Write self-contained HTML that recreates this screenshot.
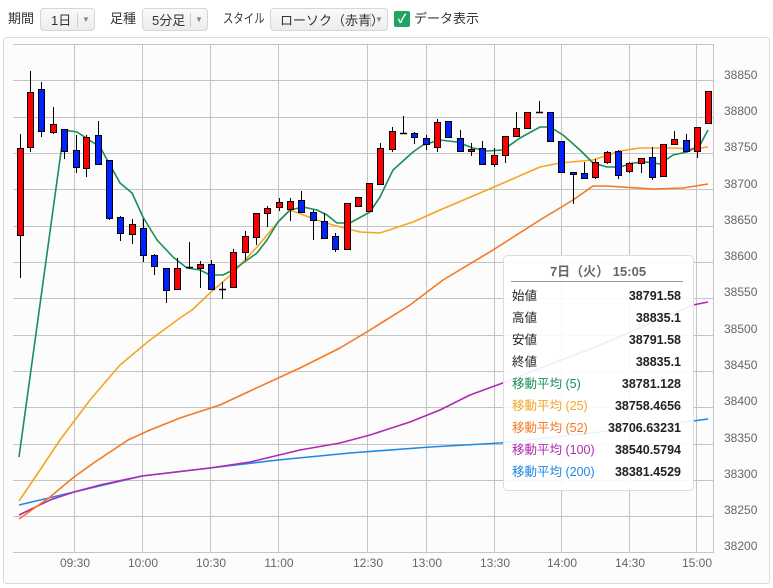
<!DOCTYPE html>
<html><head><meta charset="utf-8"><style>
body{margin:0;width:773px;height:588px;background:#fff;font-family:"Liberation Sans","Noto Sans CJK JP",sans-serif;overflow:hidden;position:relative}
.tb{position:absolute;top:7px;font-size:13px;color:#333;line-height:24px}
.btn{position:absolute;top:8px;height:23px;border:1px solid #d6d6d6;border-radius:4px;background:linear-gradient(#fafafa,#ececec);font-size:13px;line-height:23px;color:#333;box-sizing:border-box}
.btn span{position:absolute;top:0}
.btn i{position:absolute;right:0;top:4px;width:16px;height:14px;border-left:1px solid #ccc;font-style:normal;font-size:8px;color:#888;text-align:center;line-height:14px}
</style></head><body>
<div class="tb" style="left:8px">期間</div>
<div class="btn" style="left:40px;width:55px"><span style="left:10px">1日</span><i>▼</i></div>
<div class="tb" style="left:110px">足種</div>
<div class="btn" style="left:142px;width:66px"><span style="left:9px">5分足</span><i>▼</i></div>
<div class="tb" style="left:223px;transform:scaleX(0.8);transform-origin:0 0">スタイル</div>
<div class="btn" style="left:270px;width:118px"><span style="left:9px">ローソク（赤青）</span><i>▼</i></div>
<div style="position:absolute;left:394px;top:11px;width:16px;height:16px;background:#1fa463;border-radius:2px;color:#fff;font-size:12px;line-height:16px;text-align:center;font-weight:bold">✓</div>
<div class="tb" style="left:414px">データ表示</div>
<svg width="773" height="588" style="position:absolute;left:0;top:0" font-family="Liberation Sans, Noto Sans CJK JP, sans-serif">
<rect x="3.5" y="37.5" width="766" height="546" rx="3" fill="#fcfcfc" stroke="#d5dbe3"/>
<g stroke="#c4c4c4" stroke-width="1">
<line x1="13" x2="713" y1="44.5" y2="44.5"/><line x1="13" x2="713" y1="80.5" y2="80.5"/><line x1="13" x2="713" y1="117.5" y2="117.5"/><line x1="13" x2="713" y1="153.5" y2="153.5"/><line x1="13" x2="713" y1="189.5" y2="189.5"/><line x1="13" x2="713" y1="226.5" y2="226.5"/><line x1="13" x2="713" y1="262.5" y2="262.5"/><line x1="13" x2="713" y1="298.5" y2="298.5"/><line x1="13" x2="713" y1="335.5" y2="335.5"/><line x1="13" x2="713" y1="371.5" y2="371.5"/><line x1="13" x2="713" y1="407.5" y2="407.5"/><line x1="13" x2="713" y1="444.5" y2="444.5"/><line x1="13" x2="713" y1="480.5" y2="480.5"/><line x1="13" x2="713" y1="516.5" y2="516.5"/><line x1="13" x2="713" y1="552.5" y2="552.5"/>
<line x1="74.5" x2="74.5" y1="44" y2="553"/><line x1="142.5" x2="142.5" y1="44" y2="553"/><line x1="210.5" x2="210.5" y1="44" y2="553"/><line x1="278.5" x2="278.5" y1="44" y2="553"/><line x1="367.5" x2="367.5" y1="44" y2="553"/><line x1="426.5" x2="426.5" y1="44" y2="553"/><line x1="494.5" x2="494.5" y1="44" y2="553"/><line x1="561.5" x2="561.5" y1="44" y2="553"/><line x1="629.5" x2="629.5" y1="44" y2="553"/><line x1="696.5" x2="696.5" y1="44" y2="553"/>
<line x1="713.5" x2="713.5" y1="44" y2="553"/>
</g>
<g font-size="12" fill="#666" text-anchor="middle">
<text x="75" y="567">09:30</text><text x="143" y="567">10:00</text><text x="211" y="567">10:30</text><text x="279" y="567">11:00</text><text x="368" y="567">12:30</text><text x="427" y="567">13:00</text><text x="495" y="567">13:30</text><text x="562" y="567">14:00</text><text x="630" y="567">14:30</text><text x="697" y="567">15:00</text>
</g>
<g font-size="12" fill="#666">
<text x="724" y="79">38850</text><text x="724" y="115">38800</text><text x="724" y="151">38750</text><text x="724" y="188">38700</text><text x="724" y="224">38650</text><text x="724" y="260">38600</text><text x="724" y="296">38550</text><text x="724" y="333">38500</text><text x="724" y="369">38450</text><text x="724" y="405">38400</text><text x="724" y="442">38350</text><text x="724" y="478">38300</text><text x="724" y="514">38250</text><text x="724" y="550">38200</text>
</g>
<g fill="none" stroke-width="1.6" stroke-linejoin="round">
<polyline stroke="#1e88e5" points="19,505 74,492 142,476 210,468 278,460 350,453 430,447 500,443 600,432 693,421 708,419"/>
<polyline stroke="#b02ab0" points="19,515 50,500 74,492 100,485 142,476 210,468 250,462 300,450 340,443 370,435 410,422 440,410 470,395 500,384 600,345 693,305 708,302"/>
<polyline stroke="#f47920" points="19,519 50,497 74,477 95,462 128,440 150,430 180,418 220,405 250,391 300,368 340,348 370,330 410,305 443,280 493,250 540,220 573,200 593,186 607,186 653,189 683,188 708,184"/>
<polyline stroke="#f5a623" points="19,501 40,470 60,440 90,400 120,365 150,340 180,318 192,310 210,293 233,273 257,247 278,222 290,210 317,220 333,225 360,232 380,233 413,222 440,210 480,193 517,177 540,167 560,163 593,160 620,151 640,148 673,148 693,149 708,147"/>
<polyline stroke="#1a8f57" points="19,457 64,130 77,132 100,147 120,183 132,193 143,217 157,240 173,257 187,268 200,270 210,275 223,275 233,270 243,263 257,253 267,240 278,222 290,210 303,207 317,210 327,215 337,223 350,223 370,212 380,197 393,170 413,152 423,145 440,140 457,142 473,148 487,151 503,150 520,138 540,127 550,127 563,135 580,150 593,163 607,167 620,167 633,163 647,162 660,164 673,155 687,152 700,145 708,130"/>
</g>
<g id="c" stroke="#000" stroke-width="1"></g>
<rect x="503.5" y="255.5" width="190" height="235" rx="4" fill="#fff" fill-opacity="0.9" stroke="#ddd"/>
<text x="598" y="276" font-size="13" font-weight="bold" fill="#666" text-anchor="middle">7日（火） 15:05</text>
<line x1="511" x2="683" y1="281.5" y2="281.5" stroke="#99a"/>
<g font-size="12.5">
<text x="512" y="300" fill="#222">始値</text><text x="512" y="322" fill="#222">高値</text><text x="512" y="344" fill="#222">安値</text><text x="512" y="366" fill="#222">終値</text>
<text x="512" y="388" fill="#1a8f57">移動平均 (5)</text><text x="512" y="410" fill="#f5a623">移動平均 (25)</text><text x="512" y="432" fill="#f47920">移動平均 (52)</text><text x="512" y="454" fill="#b02ab0">移動平均 (100)</text><text x="512" y="476" fill="#1e88e5">移動平均 (200)</text>
</g>
<g font-size="12.5" font-weight="bold" fill="#222" text-anchor="end">
<text x="681" y="300">38791.58</text><text x="681" y="322">38835.1</text><text x="681" y="344">38791.58</text><text x="681" y="366">38835.1</text><text x="681" y="388">38781.128</text><text x="681" y="410">38758.4656</text><text x="681" y="432">38706.63231</text><text x="681" y="454">38540.5794</text><text x="681" y="476">38381.4529</text>
</g>
</svg>
<script>
var d=[[19.5,148,235,134,278,'r'],[30.3,92,147,71,152,'r'],[41.3,89,131,82,137,'b'],[53.3,124,132,107,134,'r'],[64.3,129,151,129,159,'b'],[75.7,150,167,135,173,'b'],[86.3,137,168,135,177,'r'],[98.3,135,164,121,164,'b'],[109.3,160,218,160,220,'b'],[120.3,217,233,216,241,'b'],[132.3,224,234,219,244,'r'],[143.3,228,255,219,262,'b'],[154.3,255,266,254,275,'b'],[166.3,268,290,268,303,'b'],[177.3,268,289,258,289,'r'],[188.7,267,268,242,269,'d'],[200.3,264,268,261,288,'r'],[211.3,264,289,260,289,'b'],[222.3,289,290,282,299,'d'],[233.3,252,287,249,287,'r'],[245.3,236,252,231,260,'r'],[256.3,213,237,213,245,'r'],[267.3,208,213,206,227,'r'],[279.3,202,207,198,211,'r'],[290.3,201,209,198,221,'r'],[301.3,200,212,191,212,'b'],[313.3,212,220,210,240,'b'],[324.3,221,238,213,239,'b'],[335.3,236,249,233,252,'b'],[347.3,203,249,203,249,'r'],[358,197,206,197,206,'r'],[369.3,183,211,183,211,'r'],[380,148,184,143,184,'r'],[392.3,131,149,127,152,'r'],[403.3,133,134,116,134,'d'],[414.3,133,137,132,144,'b'],[426.3,138,144,135,150,'b'],[437.3,122,147,119,152,'r'],[448.3,121,137,121,137,'b'],[460.3,138,151,130,151,'b'],[471.3,149,151,143,156,'r'],[482.3,148,164,141,165,'b'],[494.3,155,164,148,167,'r'],[505.3,136,155,136,163,'r'],[516.3,128,136,112,136,'r'],[527.3,112,128,112,128,'r'],[539.3,112,113,101,113,'d'],[550.3,112,141,112,142,'b'],[561.3,141,172,141,172,'b'],[573.3,172,174,172,204,'b'],[584.3,173,178,162,178,'b'],[595.3,162,177,159,179,'r'],[607.3,152,162,151,164,'r'],[618.3,151,175,150,179,'b'],[629.3,163,171,162,173,'r'],[641.3,158,163,158,173,'r'],[652.3,157,177,147,180,'b'],[663.3,144,176,144,176,'r'],[674.3,139,144,131,144,'r'],[686.3,140,151,134,151,'b'],[697.3,127,151,127,158,'r'],[708.3,91,123,91,123,'r']];
var g=document.getElementById('c'),s='';
d.forEach(function(c){var x=Math.round(c[0]);s+='<line x1="'+(x+.5)+'" x2="'+(x+.5)+'" y1="'+c[3]+'" y2="'+c[4]+'"/>';
if(c[5]=='d'){s+='<line x1="'+(x-3)+'" x2="'+(x+4)+'" y1="'+(c[1]+.5)+'" y2="'+(c[1]+.5)+'" stroke-width="1.5"/>';}
else s+='<rect x="'+(x-2.5)+'" y="'+(c[1]+.5)+'" width="6" height="'+Math.max(1,c[2]-c[1])+'" fill="'+(c[5]=='r'?'#ff0000':'#0022ff')+'"/>';});
g.innerHTML=s;
</script>
</body></html>
